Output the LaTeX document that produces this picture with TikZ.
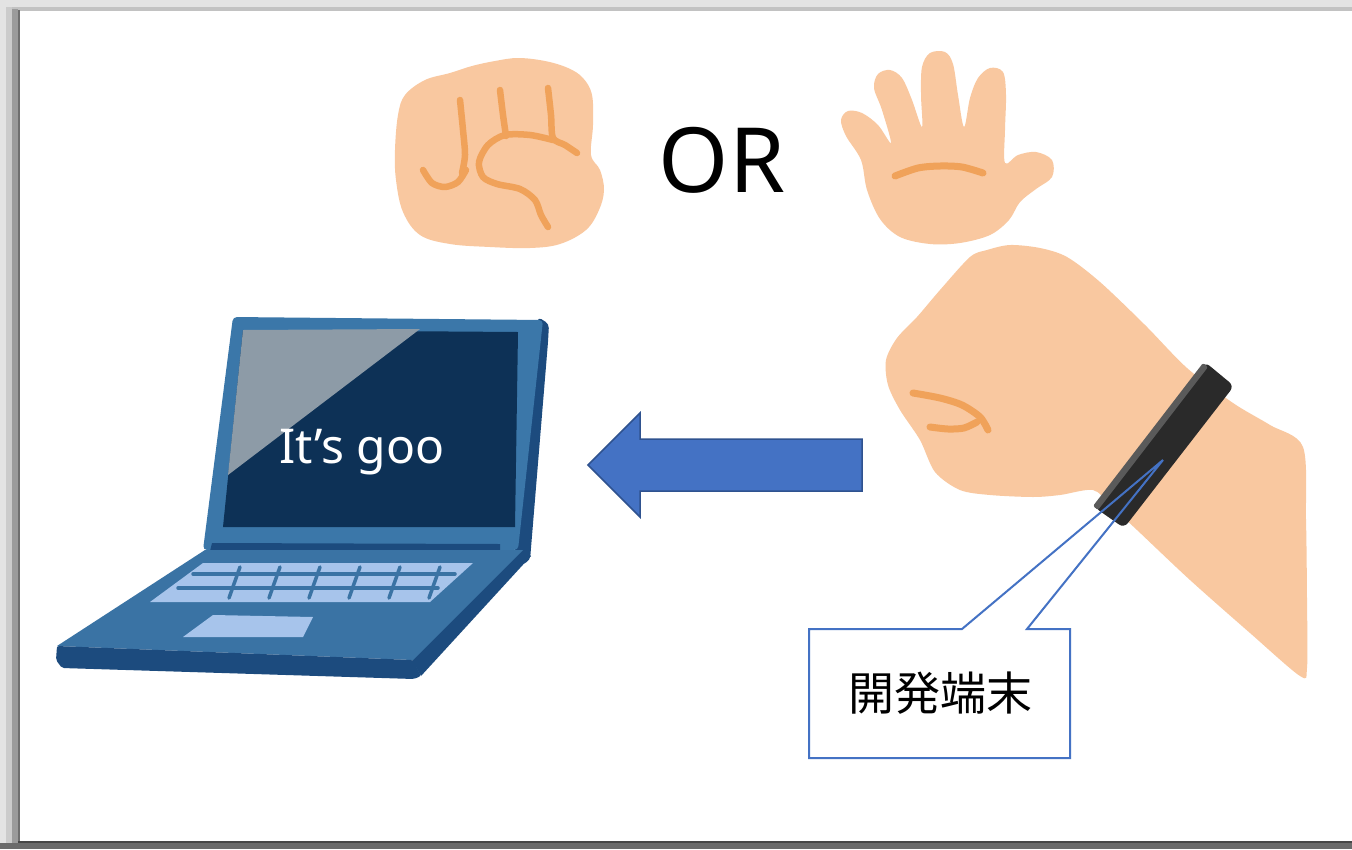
\documentclass[tikz,border=0pt]{standalone}
\usepackage{fontspec}
\setmainfont{Noto Sans CJK JP}
\newfontfamily\latinfont{Noto Sans}
\definecolor{frameA}{HTML}{E3E3E3}
\definecolor{frameB}{HTML}{C2C2C2}
\definecolor{frameC}{HTML}{CBCBCB}
\definecolor{frameD}{HTML}{9B9B9B}
\definecolor{frameE}{HTML}{6F6F6F}
\definecolor{frameF}{HTML}{6B6B6B}
\definecolor{frameG}{HTML}{474747}
\definecolor{skin}{HTML}{F9C8A0}
\definecolor{crease}{HTML}{F0A25A}
\definecolor{bandcol}{HTML}{2A2A2A}
\definecolor{bandedge}{HTML}{5A5A5A}
\definecolor{lapmid}{HTML}{3B77A9}
\definecolor{lapdark}{HTML}{1C4B7E}
\definecolor{lapscreen}{HTML}{0D3156}
\definecolor{lapgray}{HTML}{8D9BA7}
\definecolor{lapkey}{HTML}{A7C4EB}
\definecolor{lapbase}{HTML}{3A73A4}
\definecolor{arrowblue}{HTML}{4472C4}
\definecolor{arrowedge}{HTML}{2F528F}
\tikzset{
  creaseline/.style={draw=crease, line width=6.5, line cap=round, line join=round},
  keyline/.style={draw=lapbase, line width=3.5, line cap=round},
  calloutline/.style={draw=arrowblue, line width=2, line join=miter},
}
\begin{document}
\begin{tikzpicture}[x=1pt,y=-1pt]
\useasboundingbox (0,0) rectangle (1352,849);

% window frame and slide
\fill[white] (0,0) rectangle (1352,849);
\fill[frameA] (0,0) rectangle (1352,7);
\fill[frameB] (6,7) rectangle (1352,11);
\fill[frameA] (0,0) rectangle (6,849);
\fill[frameC] (6,7) rectangle (12,849);
\fill[frameD] (12,9) rectangle (18,849);
\fill[frameE] (18,10) rectangle (20,849);
\fill[frameF] (0,843) rectangle (1352,849);
\fill[frameG] (18,841) rectangle (1352,843);

% fist (rock)
\fill[skin] plot[smooth cycle, tension=0.6] coordinates {
  (425,80) (450,73) (472,66) (495,61) (518,58) (545,61) (568,68) (583,78)
  (592,95) (593,125) (591,155) (600,170) (604,190) (599,210) (586,230)
  (560,244) (530,248) (490,247) (450,244) (420,235) (403,212) (396,180)
  (395,150) (398,115) (405,95)};
\draw[creaseline] plot[smooth] coordinates {(460,100) (463,130) (465,155) (462,173)};
\draw[creaseline] plot[smooth] coordinates {(423,170) (432,183) (445,187) (458,182) (466,170)};
\draw[creaseline] plot[smooth] coordinates {(500,90) (503,115) (506,136)};
\draw[creaseline] plot[smooth] coordinates {(548,88) (551,115) (553,138) (565,145) (577,153)};
\draw[creaseline] plot[smooth] coordinates {(553,140) (530,135) (505,135) (488,145)
  (479,162) (483,177) (497,184) (520,189) (535,200) (541,215) (548,227)};

% OR
\node[font=\latinfont\fontsize{90}{90}\selectfont] (ortext) at (722,160) {OR};

% open hand (paper)
\fill[skin] plot[smooth cycle, tension=0.55] coordinates {
  (841,120) (848,111) (862,113) (878,125) (891,143)
  (882,110) (874,88) (878,74) (890,70) (902,78) (912,100) (922,127)
  (921,95) (922,67) (930,53) (945,52) (953,64) (958,95) (964,127)
  (970,98) (978,78) (990,68) (1003,72) (1006,95) (1005,130) (1005,163)
  (1018,155) (1036,152) (1052,160) (1052,177) (1036,189) (1020,202)
  (1009,220) (990,235) (960,243) (930,244) (900,237) (880,219)
  (867,190) (861,160) (846,136)};
\draw[creaseline, line width=7] plot[smooth] coordinates {(895,176) (918,168) (940,166) (962,167) (983,173)};

% arm with wristband
\fill[skin] plot[smooth cycle, tension=0.5] coordinates {
  (970,257) (987,250) (1010,245) (1040,248) (1067,257) (1100,282)
  (1145,325) (1187,368) (1233,403) (1270,425) (1303,447) (1306,520)
  (1307,600) (1307,668) (1300,676) (1250,633) (1190,580) (1137,530)
  (1110,505) (1093,490) (1060,495) (1033,497) (990,495) (960,490)
  (935,472) (920,440) (900,410) (888,385) (886,360) (897,338)
  (917,317) (940,290)};
\draw[creaseline, line width=7] plot[smooth] coordinates {(913,393) (940,398) (962,405) (980,417) (988,430)};
\draw[creaseline, line width=7] plot[smooth] coordinates {(930,427) (948,429) (964,428) (977,422)};
\fill[bandcol, rounded corners=6] (1205,362) -- (1234,386) -- (1124,528) -- (1094,507) -- cycle;
\fill[bandedge, rounded corners=2] (1203,363) -- (1208,367) -- (1098,510) -- (1093,506) -- cycle;

% laptop: lid
\fill[lapdark, rounded corners=4] (538,317) -- (549,324) -- (548,342) -- (530,560) -- (520,566) -- (514,548) -- cycle;
\fill[lapmid, rounded corners=4] (233,317) -- (543,320) -- (518,550) -- (203,550) -- cycle;
\fill[lapscreen] (243,330) -- (518,332) -- (515,527) -- (223,527) -- cycle;
\fill[lapgray] (243,330) -- (420,329) -- (228,475) -- cycle;
\fill[lapdark] (212,543) -- (500,544) -- (500,551) -- (210,551) -- cycle;
% laptop: base
\fill[lapdark] (523,548) -- (531,556) -- (421,676) -- (412,660) -- cycle;
\fill[lapbase] (205,550) -- (523,550) -- (413,660) -- (57,646) -- cycle;
\fill[lapdark, rounded corners=2] (57,646) -- (413,660) -- (421,676) -- (414,679) -- (62,668) -- (56,660) -- cycle;
\fill[lapkey] (203,563) -- (473,563) -- (430,602) -- (150,602) -- cycle;
\draw[keyline] (193,574) -- (455,574);
\draw[keyline] (178,588) -- (438,588);
\foreach \kx in {240,280,320,360,400,440} {
  \draw[keyline] (\kx,567) -- ({\kx-11},598);
}
\fill[lapkey] (213,615) -- (313,617) -- (303,637) -- (183,637) -- cycle;
\node[white, font=\latinfont\fontsize{48}{48}\selectfont] (screentext) at (362,452) {It’s goo};

% arrow towards the laptop
\draw[fill=arrowblue, draw=arrowedge, line width=1.5, line join=miter]
  (588,465) -- (640,413) -- (640,439) -- (862,439) -- (862,491) -- (640,491) -- (640,517) -- cycle;

% callout naming the wristband
\coordinate (tip) at (1163,460);
\node[font=\fontsize{46}{46}\selectfont] (tag) at (940,693) {開発端末};
\draw[calloutline] (809,629) -- (962,629) -- (tip) -- (1027,629) -- (1070,629) -- (1070,758) -- (809,758) -- cycle;
\end{tikzpicture}
\end{document}
